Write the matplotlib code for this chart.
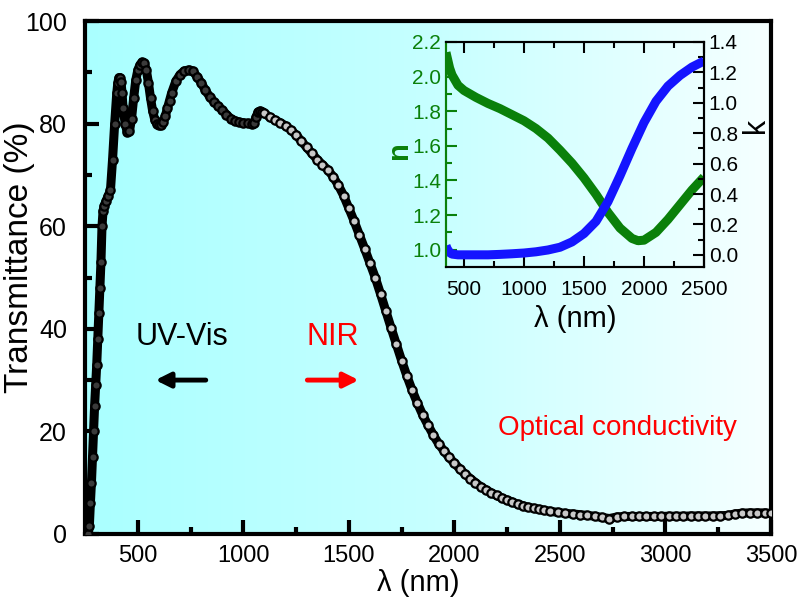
import matplotlib.pyplot as plt
import numpy as np
from matplotlib.colors import LinearSegmentedColormap

plt.rcParams['font.family'] = ['Liberation Sans', 'DejaVu Sans']

# transmittance spectrum (nm, %)
wl = [265, 270, 275, 280, 285, 290, 295, 300, 305, 310, 315, 320, 325, 330, 335, 340,
      350, 360, 370, 380, 390, 400, 405, 410, 415, 420, 425, 430, 440, 450, 460, 470,
      480, 490, 500, 510, 520, 530, 540, 550, 560, 570, 580, 590, 600, 610, 620, 630,
      640, 650, 660, 680, 700, 720, 740, 760, 780, 800, 820, 840, 860, 880, 900, 920,
      940, 960, 980, 1000, 1020, 1040, 1050, 1060, 1070, 1080, 1090, 1100, 1125, 1150,
      1175, 1200, 1225, 1250, 1275, 1300, 1325, 1350, 1375, 1400, 1425, 1450, 1475,
      1500, 1525, 1550, 1575, 1600, 1625, 1650, 1675, 1700, 1725, 1750, 1775, 1800,
      1825, 1850, 1875, 1900, 1925, 1950, 1975, 2000, 2025, 2050, 2075, 2100, 2125,
      2150, 2175, 2200, 2225, 2250, 2275, 2300, 2325, 2350, 2375, 2400, 2425, 2455,
      2490, 2525, 2560, 2595, 2630, 2665, 2700, 2735, 2770, 2805, 2840, 2875, 2910,
      2945, 2980, 3015, 3050, 3085, 3120, 3155, 3190, 3225, 3260, 3295, 3330, 3365,
      3400, 3435, 3470, 3500]
trans = [0, 1.5, 6, 10, 15, 20, 25, 29, 33, 38, 43, 48, 53, 60, 63, 64,
         65, 66, 67, 73, 80, 86, 88, 89, 89, 88.2, 86, 83, 80, 78.3, 78.5, 81,
         85, 88.5, 90.5, 91.5, 92, 91.8, 90.5, 88, 85, 82.5, 80.8, 80, 79.8, 79.7, 80.3, 81.5,
         83, 84.5, 86, 88.3, 89.6, 90.3, 90.5, 90.3, 89.2, 88, 86.5, 85.3, 84.3, 83.5, 82.7, 81.8,
         81, 80.6, 80.3, 80.2, 80.1, 80, 80.2, 81.3, 82.3, 82.5, 82.3, 82, 81.3, 80.7,
         80.2, 79.6, 78.8, 77.8, 76.6, 75.4, 74.2, 73, 72, 71, 69.7, 68, 66,
         63.5, 61, 58.3, 55.6, 52.8, 50, 46.8, 43.5, 40.2, 37, 33.8, 30.8, 28,
         25.5, 23.2, 21.2, 19.3, 17.6, 16.2, 14.9, 13.8, 12.7, 11.7, 10.8, 10, 9.2,
         8.6, 8, 7.5, 7, 6.6, 6.2, 5.8, 5.5, 5.2, 5, 4.8, 4.6, 4.4,
         4.2, 4, 3.9, 3.75, 3.6, 3.45, 3.2, 3.0, 3.3, 3.4, 3.4, 3.4, 3.4,
         3.4, 3.4, 3.45, 3.45, 3.45, 3.5, 3.5, 3.5, 3.5, 3.55, 3.6, 3.9, 4.05,
         4.1, 4.1, 4.1, 4.0]

# optical constants (inset)
wl_nk = [350, 360, 380, 400, 450, 500, 600, 700, 800, 900, 1000, 1100, 1200, 1300,
         1400, 1500, 1600, 1700, 1800, 1900, 1950, 2000, 2100, 2200, 2300, 2400, 2500]
n_val = [2.14, 2.11, 2.05, 2.01, 1.95, 1.92, 1.88, 1.845, 1.815, 1.78, 1.745, 1.70, 1.645,
         1.575, 1.50, 1.415, 1.32, 1.215, 1.125, 1.065, 1.052, 1.055, 1.10, 1.175, 1.26,
         1.345, 1.42]
k_val = [0.06, 0.04, 0.015, 0.005, 0.0, 0.0, 0.0, 0.0, 0.003, 0.007, 0.012, 0.02, 0.032,
         0.05, 0.085, 0.14, 0.22, 0.35, 0.52, 0.70, 0.785, 0.87, 1.01, 1.11, 1.18, 1.235,
         1.275]

fig = plt.figure(figsize=(8.03, 6.06), dpi=100)
ax = fig.add_axes([0.106, 0.119, 0.854, 0.846])

# cyan -> white background
cmap = LinearSegmentedColormap.from_list('bg', ['#aaffff', '#c6ffff', '#f6ffff'])
ax.imshow(np.linspace(0, 1, 256).reshape(1, -1), extent=[0, 1, 0, 1], transform=ax.transAxes,
          aspect='auto', cmap=cmap, zorder=0)

wl_a = np.array(wl)
tr_a = np.array(trans)
early = wl_a < 1100
ax.plot(wl, trans, color='black', lw=6.5, zorder=2)
ax.plot(wl_a[early], tr_a[early], ls='none', marker='o', ms=6, mfc='#3a3a3a', mec='black',
        mew=1.6, zorder=3)
ax.plot(wl_a[~early], tr_a[~early], ls='none', marker='o', ms=6, mfc='#c8c8c8', mec='black',
        mew=1.6, zorder=3)

ax.set_xlim(250, 3500)
ax.set_ylim(0, 100)
ax.set_xticks([500, 1000, 1500, 2000, 2500, 3000, 3500])
ax.set_xticks(np.arange(750, 3500, 500), minor=True)
ax.set_yticks([0, 20, 40, 60, 80, 100])
ax.set_yticks([10, 30, 50, 70, 90], minor=True)
ax.tick_params(which='both', direction='in', top=False, right=False, width=3, labelsize=17)
ax.tick_params(axis='y', labelsize=18, pad=13)
ax.tick_params(which='major', length=10)
ax.tick_params(which='minor', length=5)
ax.tick_params(axis='x', pad=8)
for s in ax.spines.values():
    s.set_linewidth(3)
ax.set_xlabel('λ (nm)', fontsize=21)
ax.xaxis.set_label_coords(0.486, -0.068)
ax.set_ylabel('Transmittance (%)', fontsize=24)
ax.yaxis.set_label_coords(-0.073, 0.54)

ax.text(710, 38.4, 'UV-Vis', fontsize=22, ha='center', va='center', color='black')
ax.text(1422, 38.4, 'NIR', fontsize=22, ha='center', va='center', color='red')
ax.annotate('', xy=(570, 30), xytext=(835, 30),
            arrowprops=dict(arrowstyle='-|>', color='black', lw=3.5, mutation_scale=22))
ax.annotate('', xy=(1560, 30), xytext=(1290, 30),
            arrowprops=dict(arrowstyle='-|>', color='red', lw=3.5, mutation_scale=22))
ax.text(2774, 20.7, 'Optical conductivity', fontsize=20, ha='center', va='center', color='red')

# inset
ins = fig.add_axes([0.5554, 0.5594, 0.3213, 0.3713], facecolor='none')
green = '#0a800a'
ins.plot(wl_nk, n_val, color=green, lw=6.5, solid_capstyle='butt')
ins.set_xlim(350, 2500)
ins.set_ylim(0.9, 2.2)
ins.set_xticks([500, 1000, 1500, 2000, 2500])
ins.set_xticks([750, 1250, 1750, 2250], minor=True)
ins.set_yticks([1.0, 1.2, 1.4, 1.6, 1.8, 2.0, 2.2])
ins.set_yticks([1.1, 1.3, 1.5, 1.7, 1.9, 2.1], minor=True)
ins.tick_params(which='both', direction='in', top=True, width=1.5, labelsize=15)
ins.tick_params(which='major', length=8)
ins.tick_params(which='minor', length=4)
ins.tick_params(axis='y', which='both', colors=green)
ins.tick_params(axis='x', pad=9)
ins.set_xlabel('λ (nm)', fontsize=21)
ins.xaxis.set_label_coords(0.5, -0.17)
ins.set_ylabel('n', fontsize=21, color=green, fontweight='bold')
ins.yaxis.set_label_coords(-0.127, 0.52)

ins2 = ins.twinx()
ins2.plot(wl_nk, k_val, color='#1414ff', lw=6.5, solid_capstyle='butt')
ins2.set_ylim(-0.08, 1.4)
ins2.set_yticks([0.0, 0.2, 0.4, 0.6, 0.8, 1.0, 1.2, 1.4])
ins2.set_yticks([0.1, 0.3, 0.5, 0.7, 0.9, 1.1, 1.3], minor=True)
ins2.tick_params(which='both', direction='in', width=1.5, labelsize=15)
ins2.tick_params(which='major', length=8)
ins2.tick_params(which='minor', length=4)
ins2.set_ylabel('k', fontsize=22)
ins2.yaxis.set_label_coords(1.142, 0.63)
for s in list(ins.spines.values()) + list(ins2.spines.values()):
    s.set_linewidth(1.5)
ins2.spines['left'].set_color(green)
ins.spines['left'].set_color(green)

fig.savefig('out.png', dpi=100)
